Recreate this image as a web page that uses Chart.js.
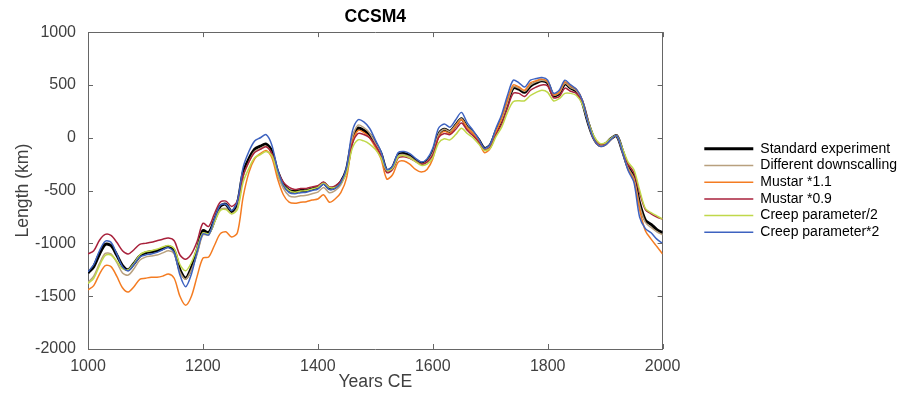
<!DOCTYPE html>
<html>
<head>
<meta charset="utf-8">
<title>CCSM4</title>
<script src="https://cdn.jsdelivr.net/npm/chart.js@4.4.1/dist/chart.umd.min.js"></script>
<style>
  html, body { margin: 0; padding: 0; background: #fff; }
  #wrap { width: 902px; height: 393px; }
</style>
</head>
<body>
<div id="wrap"><canvas id="glacier_chart" width="902" height="393"></canvas></div>
<script>
// years, every 10 years from 1000 to 2000
var years = [];
for (var yr = 1000; yr <= 2000; yr += 10) years.push(yr);

var xTicks = [1000, 1200, 1400, 1600, 1800, 2000];
var yTicks = [-2000, -1500, -1000, -500, 0, 500, 1000];

var seriesNames = ["Standard experiment", "Different downscalling", "Mustar *1.1", "Mustar *0.9", "Creep parameter/2", "Creep parameter*2"];

var standardExp = [
  -1280, -1220, -1100, -1010, -1020, -1110, -1210, -1250, -1190, -1120,
  -1090, -1080, -1070, -1050, -1030, -1070, -1250, -1330, -1230, -1060,
  -880, -900, -780, -650, -630, -700, -620, -330, -200, -110,
  -80, -60, -130, -320, -440, -500, -510, -500, -500, -485,
  -470, -430, -480, -470, -420, -300, -20, 90, 70, 30,
  -50, -150, -310, -280, -160, -150, -170, -210, -240, -220,
  -140, 30, 80, 60, 120, 180, 100, 50, -20, -100,
  -70, 60, 170, 330, 470, 460, 430, 490, 520, 540,
  520, 400, 420, 510, 470, 440, 340, 150, 0, -70,
  -60, -10, 20, -120, -280, -370, -620, -780, -820, -870,
  -900
];

var diffDownscaling = [
  -1370, -1310, -1190, -1095, -1100, -1180, -1280, -1300, -1240, -1160,
  -1130, -1120, -1110, -1090, -1070, -1100, -1270, -1340, -1250, -1100,
  -920, -920, -800, -680, -670, -720, -660, -370, -230, -130,
  -100, -80, -160, -350, -480, -550, -560, -550, -545, -530,
  -515, -470, -520, -500, -445, -320, 0, 120, 95, 45,
  -50, -150, -320, -290, -170, -160, -180, -220, -250, -225,
  -145, 30, 80, 60, 120, 180, 100, 50, -25, -105,
  -75, 60, 170, 330, 480, 470, 440, 500, 530, 545,
  525, 405, 425, 515, 475, 445, 345, 150, 0, -70,
  -60, -10, 20, -120, -285, -380, -640, -800, -850, -890,
  -920
];

var mustar11 = [
  -1440, -1400, -1290, -1210, -1220, -1310, -1420, -1460, -1410, -1340,
  -1330, -1320, -1320, -1310, -1290, -1330, -1500, -1585, -1500, -1310,
  -1140, -1130, -1020, -910, -890, -940, -900, -560, -330, -200,
  -150, -120, -190, -390, -540, -610, -620, -610, -605, -590,
  -580, -540, -610, -580, -520, -380, -50, 70, 50, 0,
  -90, -200, -390, -350, -230, -220, -250, -300, -325, -300,
  -200, 0, 60, 40, 110, 170, 90, 40, -40, -140,
  -100, 50, 190, 360, 500, 480, 450, 520, 540, 555,
  530, 410, 430, 530, 490, 460, 360, 160, -10, -80,
  -70, -15, 20, -130, -300, -400, -680, -880, -960, -1030,
  -1100
];

var mustar09 = [
  -1100, -1070, -970, -915, -925, -990, -1070, -1100, -1060, -1010,
  -1000, -990, -975, -960, -950, -975, -1110, -1150, -1100, -980,
  -810, -840, -720, -610, -600, -650, -600, -360, -230, -140,
  -110, -85, -150, -310, -420, -470, -490, -480, -480, -465,
  -455, -420, -465, -455, -410, -320, -60, 40, 30, 0,
  -70, -170, -330, -300, -190, -180, -195, -225, -250, -230,
  -165, 0, 40, 30, 80, 140, 70, 20, -40, -115,
  -90, 30, 130, 280, 420, 420, 390, 450, 480, 500,
  490, 380, 390, 470, 440, 420, 330, 160, 0, -60,
  -55, -10, 20, -110, -250, -330, -520, -680, -720, -750,
  -770
];

var creepHalf = [
  -1380, -1330, -1210, -1115, -1110, -1170, -1240, -1250, -1190, -1110,
  -1080, -1070, -1055, -1035, -1020, -1050, -1200, -1260, -1180, -1040,
  -900, -910, -800, -690, -680, -720, -680, -420, -290, -190,
  -160, -130, -170, -330, -450, -500, -515, -505, -500, -485,
  -470, -430, -470, -470, -430, -330, -100, -20, -30, -60,
  -110, -190, -310, -290, -180, -170, -190, -225, -260, -250,
  -190, -50, -10, -20, 30, 90, 40, 0, -60, -120,
  -100, 10, 100, 240, 340, 350, 350, 400, 430, 450,
  430, 350, 370, 420, 420, 400, 320, 160, 20, -50,
  -50, -5, 20, -100, -230, -300, -495, -670, -710, -740,
  -770
];

var creepDouble = [
  -1270, -1200, -1070, -980, -990, -1100, -1220, -1260, -1200, -1130,
  -1110, -1100, -1085, -1060, -1040, -1090, -1300, -1410, -1290, -1080,
  -910, -920, -770, -640, -630, -690, -600, -280, -130, -30,
  0, 30, -70, -300, -450, -520, -530, -520, -515, -500,
  -485, -440, -490, -480, -425, -280, 60, 170, 150, 90,
  -20, -130, -300, -270, -140, -130, -150, -195, -230, -200,
  -100, 90, 130, 100, 170, 240, 140, 70, -10, -100,
  -60, 90, 220, 400, 545, 520, 480, 545, 560, 570,
  545, 420, 450, 545, 500, 460, 360, 150, -10, -80,
  -70, -15, 20, -130, -310, -420, -750, -860, -900, -960,
  -1000
];

var seriesValues = [standardExp, diffDownscaling, mustar11, mustar09, creepHalf, creepDouble];
var seriesColors = ['#000000', '#b8a07e', '#f47c22', '#a8213b', '#c0d84a', '#3d62c0'];
var seriesWidths = [3, 1.5, 1.5, 1.5, 1.5, 1.5];

function toPoints(values) {
    return values.map(function (v, i) { return { x: years[i], y: v }; });
}

// MATLAB style inward ticks on all four sides
var boxTicks = {
    id: 'boxTicks',
    afterDraw: function (chart) {
        var ctx = chart.ctx, a = chart.chartArea;
        var xs = chart.scales.x, ys = chart.scales.y;
        ctx.save();
        ctx.strokeStyle = '#666';
        ctx.lineWidth = 1;
        ctx.beginPath();
        xTicks.forEach(function (t) {
            var px = Math.round(xs.getPixelForValue(t)) + 0.5;
            ctx.moveTo(px, a.bottom); ctx.lineTo(px, a.bottom - 5);
            ctx.moveTo(px, a.top); ctx.lineTo(px, a.top + 5);
        });
        yTicks.forEach(function (t) {
            var py = Math.round(ys.getPixelForValue(t)) + 0.5;
            ctx.moveTo(a.left, py); ctx.lineTo(a.left + 5, py);
            ctx.moveTo(a.right, py); ctx.lineTo(a.right - 5, py);
        });
        ctx.stroke();
        ctx.restore();
    }
};

function plainLabel(v) { return String(v); }

Chart.defaults.font.family = "'Liberation Sans', Arial, Helvetica, sans-serif";
Chart.defaults.color = '#404040';

new Chart(document.getElementById('glacier_chart').getContext('2d'), {
    type: 'line',
    data: {
        datasets: seriesValues.map(function (vals, i) {
            return {
                label: seriesNames[i],
                data: toPoints(vals),
                borderColor: seriesColors[i],
                backgroundColor: seriesColors[i],
                borderWidth: seriesWidths[i],
                pointRadius: 0,
                tension: 0.3,
                fill: false,
                order: 6 - i
            };
        })
    },
    options: {
        responsive: false,
        animation: false,
        layout: { padding: { left: 8, right: -5, top: 0, bottom: 0 } },
        plugins: {
            title: {
                display: true,
                text: 'CCSM4',
                fullSize: false,
                color: '#000',
                font: { size: 17.6, weight: 'bold' },
                padding: { top: 7, bottom: 4 }
            },
            legend: {
                display: true,
                position: 'right',
                align: 'center',
                fullSize: false,
                maxWidth: 260,
                labels: {
                    usePointStyle: true,
                    pointStyle: 'line',
                    pointStyleWidth: 49,
                    padding: 2.7,
                    color: '#000',
                    font: { size: 14 },
                    sort: function (a, b) { return a.datasetIndex - b.datasetIndex; }
                }
            },
            tooltip: { enabled: false }
        },
        scales: {
            x: {
                type: 'linear',
                position: 'bottom',
                min: 1000,
                max: 2000,
                afterBuildTicks: function (s) { s.ticks = xTicks.map(function (v) { return { value: v }; }); },
                afterFit: function (s) { s.height = 44; },
                grid: { display: false, drawTicks: false },
                border: { display: true, color: '#666', width: 1 },
                ticks: { padding: 8, font: { size: 16 }, color: '#404040', maxRotation: 0, callback: plainLabel },
                title: { display: true, text: 'Years CE', color: '#404040', font: { size: 17.6 }, padding: { top: 0, bottom: 0 } }
            },
            x2: {
                type: 'linear',
                position: 'top',
                min: 1000,
                max: 2000,
                afterFit: function (s) { s.height = 0; },
                grid: { display: false, drawTicks: false },
                border: { display: true, color: '#666', width: 1 },
                ticks: { display: false }
            },
            y: {
                type: 'linear',
                position: 'left',
                min: -2000,
                max: 1000,
                afterBuildTicks: function (s) { s.ticks = yTicks.map(function (v) { return { value: v }; }); },
                afterFit: function (s) { s.width = 80; },
                grid: { display: false, drawTicks: false },
                border: { display: true, color: '#666', width: 1 },
                ticks: { padding: 12, font: { size: 16 }, color: '#404040', callback: plainLabel },
                title: { display: true, text: 'Length (km)', color: '#404040', font: { size: 17.6 }, padding: { top: 5, bottom: 0 } }
            },
            y2: {
                type: 'linear',
                position: 'right',
                min: -2000,
                max: 1000,
                afterFit: function (s) { s.width = 39; },
                grid: { display: false, drawTicks: false },
                border: { display: true, color: '#666', width: 1 },
                ticks: { display: false }
            }
        }
    },
    plugins: [boxTicks]
});
</script>
</body>
</html>
